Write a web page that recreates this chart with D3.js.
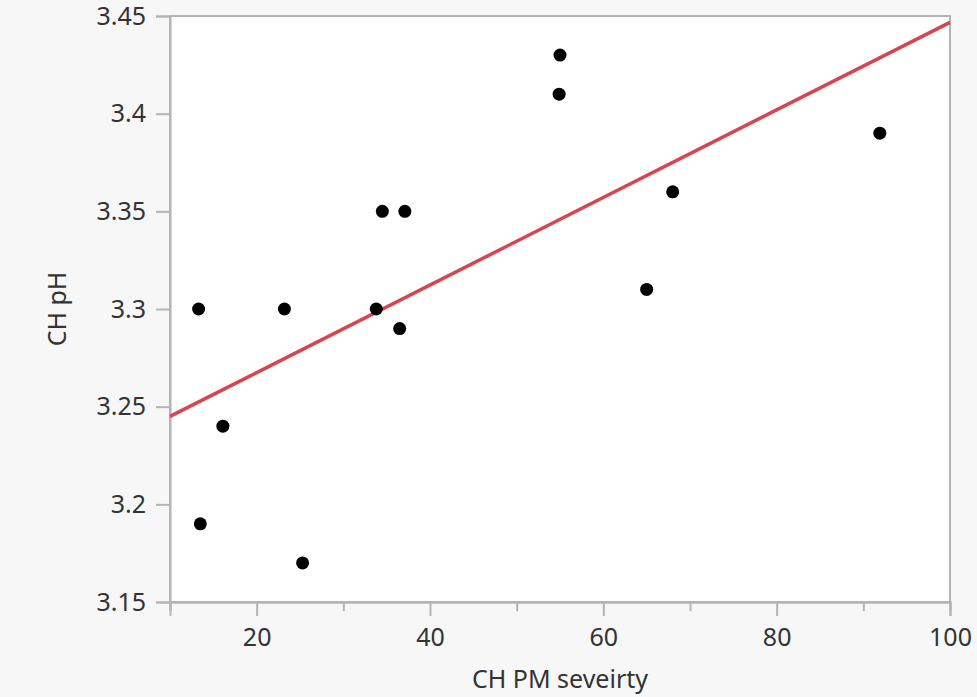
<!DOCTYPE html>
<html>
<head>
<meta charset="utf-8">
<script src="https://cdn.jsdelivr.net/npm/d3@7"></script>
<style>
  body { margin: 0; background: #f7f7f7; }
  text { font-family: "Segoe UI", "Noto Sans", sans-serif; fill: #333; }
</style>
</head>
<body>
<div id="chart"></div>
<script>
// CH PM severity vs CH pH
const severity = [55.0, 54.9, 91.9, 68.0, 34.5, 37.1, 65.0, 13.3, 23.2, 33.8, 36.5, 16.1, 13.5, 25.3];
const phValues = [3.43, 3.41, 3.39, 3.36, 3.35, 3.35, 3.31, 3.30, 3.30, 3.30, 3.29, 3.24, 3.19, 3.17];
const xTicks = [20, 40, 60, 80, 100];
const xMinorTicks = [10, 30, 50, 70, 90];
const yTicks = [3.15, 3.2, 3.25, 3.3, 3.35, 3.4, 3.45];

const width = 977;
const height = 697;
const margin = { top: 16, right: 27, bottom: 95, left: 170 };

const svg = d3.select("#chart")
    .append("svg")
    .attr("width", width)
    .attr("height", height)
    .style("background-color", "#f7f7f7");

const x = d3.scaleLinear().domain([10, 100]).range([margin.left, width - margin.right]);
const y = d3.scaleLinear().domain([3.15, 3.45]).range([height - margin.bottom, margin.top]);

// plot background + frame
svg.append("rect")
    .attr("x", x(10)).attr("y", y(3.45))
    .attr("width", x(100) - x(10)).attr("height", y(3.15) - y(3.45))
    .attr("fill", "#fff")
    .attr("stroke", "#b4b4b4")
    .attr("stroke-width", 2);

// x axis
const xAxis = svg.append("g")
    .attr("transform", `translate(0,${y(3.15)})`)
    .call(d3.axisBottom(x).tickValues(xTicks).tickSize(14).tickPadding(12).tickFormat(d3.format("d")));
svg.append("g")
    .attr("transform", `translate(0,${y(3.15)})`)
    .call(d3.axisBottom(x).tickValues(xMinorTicks).tickSize(9).tickFormat(""));

// y axis
const yAxis = svg.append("g")
    .attr("transform", `translate(${x(10)},0)`)
    .call(d3.axisLeft(y).tickValues(yTicks).tickSize(14).tickPadding(10).tickFormat(d => +d.toFixed(2)));

svg.selectAll(".domain").attr("stroke", "#b4b4b4").attr("stroke-width", 2);
svg.selectAll(".tick line").attr("stroke", "#b4b4b4").attr("stroke-width", 2);
svg.selectAll(".tick text")
    .style("font-size", "25px")
    .style("font-family", "'Segoe UI', 'Noto Sans', sans-serif")
    .attr("fill", "#333");

// axis titles
svg.append("text")
    .attr("x", (x(10) + x(100)) / 2)
    .attr("y", 688)
    .attr("text-anchor", "middle")
    .style("font-size", "25px")
    .text("CH PM seveirty");

svg.append("text")
    .attr("transform", `translate(66,${(y(3.15) + y(3.45)) / 2}) rotate(-90)`)
    .attr("text-anchor", "middle")
    .style("font-size", "25px")
    .text("CH pH");

// least-squares fit line
const mx = d3.mean(severity);
const my = d3.mean(phValues);
const sxy = d3.sum(severity, (v, i) => (v - mx) * (phValues[i] - my));
const sxx = d3.sum(severity, v => (v - mx) * (v - mx));
const slope = sxy / sxx;
const intercept = my - slope * mx;

svg.append("line")
    .attr("x1", x(10)).attr("y1", y(intercept + slope * 10))
    .attr("x2", x(100)).attr("y2", y(intercept + slope * 100))
    .attr("stroke", "#d64550")
    .attr("stroke-width", 3.5);

// points
svg.selectAll(".pt")
    .data(severity.map((v, i) => [v, phValues[i]]))
    .enter().append("circle")
    .attr("class", "pt")
    .attr("cx", d => x(d[0]))
    .attr("cy", d => y(d[1]))
    .attr("r", 6.5)
    .attr("fill", "#000");
</script>
</body>
</html>
